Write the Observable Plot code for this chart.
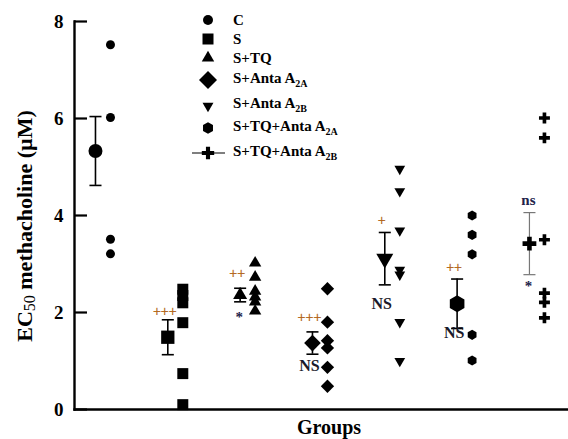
<!DOCTYPE html>
<html><head><meta charset="utf-8">
<script src="https://cdn.jsdelivr.net/npm/d3@7"></script>
<script src="https://cdn.jsdelivr.net/npm/@observablehq/plot@0.6"></script>
<style>html,body{margin:0;padding:0;background:#fff;}</style>
</head><body><div id="chart"></div>
<script>
// ---- data ----
const groups = ["C","S","S+TQ","S+Anta A2A","S+Anta A2B","S+TQ+Anta A2A","S+TQ+Anta A2B"];
const legendMain = ["C","S","S+TQ","S+Anta A","S+Anta A","S+TQ+Anta A","S+TQ+Anta A"];
const legendSub  = ["","","","2A","2B","2A","2B"];
const means = [5.33, 1.49, 2.36, 1.37, 3.11, 2.18, 3.42];
const sems  = [0.71, 0.36, 0.14, 0.23, 0.54, 0.51, 0.64];
const valsC      = [7.52, 6.02, 3.51, 3.21];
const valsS      = [2.48, 2.35, 2.2, 1.79, 0.74, 0.1];
const valsSTQ    = [3.02, 2.73, 2.44, 2.32, 2.22, 2.03];
const valsA2A    = [2.49, 1.8, 1.42, 1.27, 0.87, 0.48];
const valsA2B    = [4.96, 4.5, 3.69, 2.88, 2.78, 1.8, 1.0];
const valsTQA2A  = [4.0, 3.6, 3.2, 1.54, 1.01];
const valsTQA2B  = [6.01, 5.6, 3.5, 2.4, 2.21, 1.89];
const yTicks = [0, 2, 4, 6, 8];
const annotGroup = [1, 2, 2, 3, 3, 4, 4, 5, 5, 6, 6];
const annotText  = ["+++","++","*","+++","NS","+","NS","++","NS","ns","*"];
const annotY     = [2.03, 2.8, 1.9, 1.9, 0.89, 3.9, 2.18, 2.93, 1.57, 4.32, 2.54];

// ---- derived tables ----
const allVals = [valsC, valsS, valsSTQ, valsA2A, valsA2B, valsTQA2A, valsTQA2B];
const summary = groups.map((g, i) => ({g: i, mean: means[i], lo: means[i] - sems[i], hi: means[i] + sems[i]}));
const annots = annotText.map((t, i) => ({g: annotGroup[i], y: annotY[i], t}));

const sqrt3 = Math.sqrt(3);
const triDown = {draw(ctx, size) {
  const y = -Math.sqrt(size / (sqrt3 * 3));
  ctx.moveTo(0, -2 * y); ctx.lineTo(-sqrt3 * y, y); ctx.lineTo(sqrt3 * y, y); ctx.closePath();
}};
const hexagon = {draw(ctx, size) {
  const rx = Math.sqrt(size / Math.PI), ry = rx * 2 / sqrt3, hy = ry / 2;
  ctx.moveTo(0, ry); ctx.lineTo(rx, hy); ctx.lineTo(rx, -hy); ctx.lineTo(0, -ry);
  ctx.lineTo(-rx, -hy); ctx.lineTo(-rx, hy); ctx.closePath();
}};
const hline = {draw(ctx, size) {
  const w = Math.sqrt(size); ctx.moveTo(-w / 2, 0); ctx.lineTo(w / 2, 0);
}};
const symbols = [d3.symbolCircle, d3.symbolSquare, d3.symbolTriangle, d3.symbolDiamond2, triDown, hexagon, d3.symbolCross];
const pointR = [4.5, 6.2, 4.6, 6.0, 4.0, 4.4, 4.6];
const meanR  = [7, 7.5, 5.2, 7.5, 6.3, 7.3, 5.8];
const legendSize = [78, 121, 67, 206, 52, 78, 85];

const font = "Liberation Serif";
const marks = [];
// error bars
summary.forEach((d, i) => {
  const col = i === 6 ? "#777" : "#000";
  const sw = i === 6 ? 1.2 : 1.6;
  marks.push(Plot.ruleX([d], {x: "g", y1: "lo", y2: "hi", stroke: col, strokeWidth: sw}));
  marks.push(Plot.dot([d], {x: "g", y: "hi", symbol: hline, r: 6.8, stroke: col, strokeWidth: sw, fill: "none"}));
  marks.push(Plot.dot([d], {x: "g", y: "lo", symbol: hline, r: 6.8, stroke: col, strokeWidth: sw, fill: "none"}));
});
// means and points
allVals.forEach((vals, i) => {
  marks.push(Plot.dot([summary[i]], {x: "g", y: "mean", symbol: symbols[i], r: meanR[i], fill: "#000", stroke: "none"}));
  marks.push(Plot.dot(vals, {x: () => i, y: d => d, dx: 15, symbol: symbols[i], r: pointR[i], fill: "#000", stroke: "none"}));
});
// annotations
marks.push(Plot.text(annots.filter(d => d.t.includes("+")), {x: "g", y: "y", text: "t", dx: -3, fontSize: 14, fill: "#b0600f", stroke: "#b0600f", strokeWidth: 0.3, fontFamily: font}));
marks.push(Plot.text(annots.filter(d => d.t === "NS"), {x: "g", y: "y", text: "t", dx: -3, fontSize: 16, fontWeight: "bold", fill: "#1a1a2a", fontFamily: font}));
marks.push(Plot.text(annots.filter(d => d.t === "ns"), {x: "g", y: "y", text: "t", dx: -1, fontSize: 15, fontWeight: "bold", fill: "#22224a", fontFamily: font}));
marks.push(Plot.text(annots.filter(d => d.t === "*"), {x: "g", y: "y", text: "t", dx: -1, fontSize: 15, fontWeight: "bold", fill: "#22224a", fontFamily: font}));
// axes
marks.push(Plot.ruleY(yTicks, {y: d => d, insetRight: 568 - 74 - 13, strokeWidth: 2.2, stroke: "#000"}));
marks.push(Plot.axisY(yTicks, {tickSize: 0, tickPadding: 11, fontSize: 19, fontWeight: "bold", label: null, fontFamily: font, fill: "#000"}));
marks.push(Plot.frame({anchor: "left", strokeWidth: 2.4, stroke: "#000"}));
marks.push(Plot.frame({anchor: "bottom", strokeWidth: 2.4, stroke: "#000"}));

const chart = Plot.plot({
  width: 568, height: 439,
  marginLeft: 74, marginRight: 0, marginTop: 21, marginBottom: 30,
  x: {domain: [-0.29, 6.54], axis: null},
  y: {domain: [0, 8]},
  style: {fontFamily: font, background: "white", color: "#000"},
  marks
});
document.getElementById("chart").appendChild(chart);

// ---- labels and legend ----
const svg = d3.select(chart);
const yl = svg.append("text")
  .attr("transform", "translate(31.5,226) rotate(-90)")
  .attr("text-anchor", "middle").attr("font-family", font).attr("font-weight", "bold")
  .attr("font-size", 22).attr("fill", "#000");
yl.append("tspan").text("EC");
yl.append("tspan").attr("font-size", 16).attr("font-weight", "normal").attr("dy", 3).text("50");
yl.append("tspan").attr("dy", -3).text(" methacholine (µM)");

svg.append("text").attr("x", 329).attr("y", 434).attr("text-anchor", "middle")
  .attr("font-family", font).attr("font-weight", "bold").attr("font-size", 20).attr("fill", "#000")
  .text("Groups");

const legSymY = [20, 39, 58, 80, 106, 128, 153];
const legTextY = [25, 44, 63, 83, 108, 131, 156];
const lg = svg.append("g");
lg.append("line").attr("x1", 192).attr("x2", 225).attr("y1", legSymY[6]).attr("y2", legSymY[6])
  .attr("stroke", "#555").attr("stroke-width", 1.5);
groups.forEach((g, i) => {
  lg.append("path").attr("transform", `translate(208,${legSymY[i]})`)
    .attr("d", d3.symbol(symbols[i], legendSize[i])()).attr("fill", "#000");
  const t = lg.append("text").attr("x", 233).attr("y", legTextY[i]).attr("text-anchor", "start")
    .attr("font-family", font).attr("font-weight", "bold").attr("font-size", 15).attr("fill", "#000");
  t.append("tspan").text(legendMain[i]);
  if (legendSub[i]) t.append("tspan").attr("font-size", 10).attr("dy", 4).text(legendSub[i]);
});
</script>
</body></html>
